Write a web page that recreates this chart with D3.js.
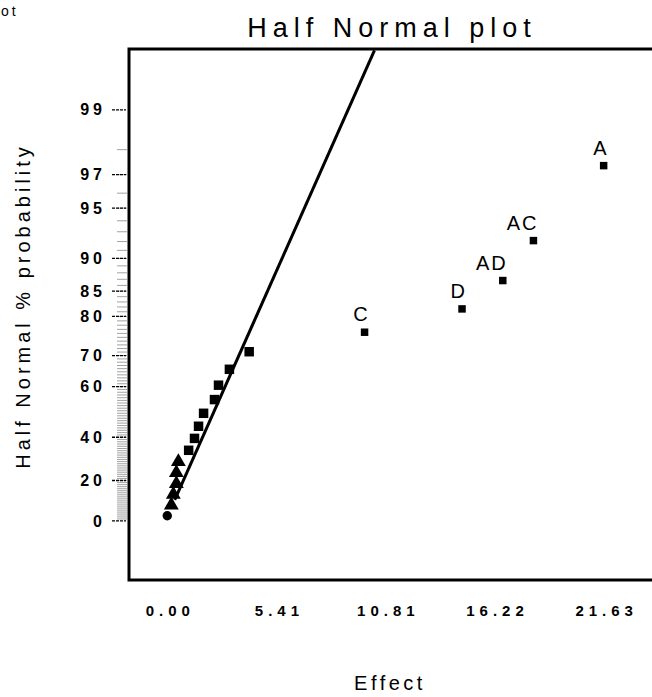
<!DOCTYPE html>
<html>
<head>
<meta charset="utf-8">
<script src="https://cdn.jsdelivr.net/npm/d3@7"></script>
<style>
  body { margin: 0; background: #fff; }
  svg { display: block; font-family: "Liberation Sans", Arial, sans-serif; }
</style>
</head>
<body>
<div id="chart"></div>
<script>
// effects, sorted by size, with their half normal % probability
var effectNames = ["", "", "", "", "", "", "", "", "", "", "", "", "", "", "C", "D", "AD", "AC", "A"];
var effects     = [0.00, 0.20, 0.30, 0.45, 0.45, 0.55, 1.06, 1.35, 1.55, 1.80, 2.34, 2.54, 3.08, 4.06, 9.78, 14.61, 16.63, 18.15, 21.63];
var probs       = [2.6, 7.9, 13.2, 18.4, 23.7, 28.9, 34.2, 39.5, 44.7, 50.0, 55.3, 60.5, 65.8, 71.1, 76.3, 81.6, 86.8, 92.1, 97.4];
var markers     = ["circle", "triangle", "triangle", "triangle", "triangle", "triangle",
                   "square", "square", "square", "square", "square", "square", "square", "square",
                   "square", "square", "square", "square", "square"];

// reference line (two ends)
var fitEffect = [0.37, 10.27];
var fitProb   = [10.5, 99.68];

var xTicks = [0.00, 5.41, 10.81, 16.22, 21.63];
var yTicks = [0, 20, 40, 60, 70, 80, 85, 90, 95, 97, 99];

var width = 652, height = 697;
var plot = {left: 129, top: 49, right: 667, bottom: 580};

// inverse normal cdf (Acklam)
function probit(p) {
    var a = [-3.969683028665376e+01, 2.209460984245205e+02, -2.759285104469687e+02, 1.383577518672690e+02, -3.066479806614716e+01, 2.506628277459239e+00];
    var b = [-5.447609879822406e+01, 1.615858368580409e+02, -1.556989798598866e+02, 6.680131188771972e+01, -1.328068155288572e+01];
    var c = [-7.784894002430293e-03, -3.223964580411365e-01, -2.400758277161838e+00, -2.549732539343734e+00, 4.374664141464968e+00, 2.938163982698783e+00];
    var d = [7.784695709041462e-03, 3.224671290700398e-01, 2.445134137142996e+00, 3.754408661907416e+00];
    var q, r;
    if (p < 0.02425) {
        q = Math.sqrt(-2 * Math.log(p));
        return (((((c[0]*q+c[1])*q+c[2])*q+c[3])*q+c[4])*q+c[5]) / ((((d[0]*q+d[1])*q+d[2])*q+d[3])*q+1);
    }
    if (p > 1 - 0.02425) {
        q = Math.sqrt(-2 * Math.log(1 - p));
        return -(((((c[0]*q+c[1])*q+c[2])*q+c[3])*q+c[4])*q+c[5]) / ((((d[0]*q+d[1])*q+d[2])*q+d[3])*q+1);
    }
    q = p - 0.5; r = q * q;
    return (((((a[0]*r+a[1])*r+a[2])*r+a[3])*r+a[4])*r+a[5])*q / (((((b[0]*r+b[1])*r+b[2])*r+b[3])*r+b[4])*r+1);
}
// half normal: percent -> z
function hz(pct) { return probit(0.5 + pct / 200); }

var x = d3.scaleLinear()
    .domain([-1.897, 24.77])
    .range([plot.left, plot.right]);

var y = d3.scaleLinear()
    .domain([-0.37, 2.957])
    .range([plot.bottom, plot.top]);

var svg = d3.select("#chart").append("svg")
    .attr("width", width)
    .attr("height", height);

svg.append("defs").append("clipPath")
    .attr("id", "plotClip")
  .append("rect")
    .attr("x", plot.left)
    .attr("y", plot.top)
    .attr("width", plot.right - plot.left)
    .attr("height", plot.bottom - plot.top);

// cut off word from the neighbouring figure
svg.append("text")
    .attr("x", 1).attr("y", 16)
    .style("font-size", "14px")
    .style("letter-spacing", "3px")
    .text("ot");

svg.append("text")
    .attr("x", 392).attr("y", 37)
    .attr("text-anchor", "middle")
    .style("font-size", "27px")
    .style("letter-spacing", "6px")
    .text("Half Normal plot");

// minor ticks on the probability scale
svg.append("g")
    .selectAll("line")
    .data(d3.range(1, 99))
    .enter().append("line")
    .attr("x1", 117).attr("x2", 127)
    .attr("y1", function(d) { return y(hz(d)); })
    .attr("y2", function(d) { return y(hz(d)); })
    .attr("stroke", "#8a8a8a")
    .attr("stroke-width", 0.8);

svg.append("g")
    .selectAll("line")
    .data(yTicks)
    .enter().append("line")
    .attr("x1", 112).attr("x2", 126)
    .attr("y1", function(d) { return y(hz(d)); })
    .attr("y2", function(d) { return y(hz(d)); })
    .attr("stroke", "#000")
    .attr("stroke-width", 1.3)
    .attr("stroke-dasharray", "3,1");

var yAxis = svg.append("g")
    .attr("transform", "translate(" + plot.left + ",0)")
    .call(d3.axisLeft(y)
        .tickValues(yTicks.map(hz))
        .tickFormat(function(d, i) { return yTicks[i]; })
        .tickSize(0)
        .tickPadding(23));
yAxis.select(".domain").remove();
yAxis.selectAll("text")
    .style("font-size", "16px")
    .style("font-weight", "bold")
    .style("letter-spacing", "4px")
    .style("font-family", "'Liberation Sans', Arial, sans-serif")
    .attr("fill", "#000");

var xAxis = svg.append("g")
    .attr("transform", "translate(0," + plot.bottom + ")")
    .call(d3.axisBottom(x)
        .tickValues(xTicks)
        .tickFormat(d3.format(".2f"))
        .tickSize(0)
        .tickPadding(25));
xAxis.select(".domain").remove();
xAxis.selectAll("text")
    .attr("dx", "2.5px")
    .style("font-size", "15px")
    .style("font-weight", "bold")
    .style("letter-spacing", "5px")
    .style("font-family", "'Liberation Sans', Arial, sans-serif")
    .attr("fill", "#000");

// frame
svg.append("rect")
    .attr("x", plot.left)
    .attr("y", plot.top)
    .attr("width", plot.right - plot.left)
    .attr("height", plot.bottom - plot.top)
    .attr("fill", "none")
    .attr("stroke", "#000")
    .attr("stroke-width", 3);

svg.append("path")
    .datum(d3.zip(fitEffect, fitProb))
    .attr("clip-path", "url(#plotClip)")
    .attr("fill", "none")
    .attr("stroke", "#000")
    .attr("stroke-width", 3)
    .attr("d", d3.line()
        .x(function(d) { return x(d[0]); })
        .y(function(d) { return y(hz(d[1])); }));

var symbolTypes = {circle: d3.symbolCircle, triangle: d3.symbolTriangle, square: d3.symbolSquare};

var points = svg.append("g")
    .selectAll("g")
    .data(d3.range(effects.length))
    .enter().append("g")
    .attr("transform", function(i) {
        return "translate(" + x(effects[i]) + "," + y(hz(probs[i])) + ")";
    });

points.append("path")
    .attr("d", function(i) {
        var size = markers[i] === "triangle" ? 95 : (effectNames[i] ? 56 : 90);
        if (markers[i] === "circle") size = 70;
        return d3.symbol().type(symbolTypes[markers[i]]).size(size)();
    })
    .attr("fill", "#000");

points.filter(function(i) { return effectNames[i] !== ""; })
    .append("text")
    .attr("x", 5).attr("y", -11)
    .attr("text-anchor", "end")
    .style("font-size", "20px")
    .style("letter-spacing", "2px")
    .text(function(i) { return effectNames[i]; });

// axis titles
svg.append("text")
    .attr("x", 390).attr("y", 690)
    .attr("text-anchor", "middle")
    .style("font-size", "20px")
    .style("letter-spacing", "3.5px")
    .text("Effect");

svg.append("text")
    .attr("transform", "translate(30,306) rotate(-90)")
    .attr("text-anchor", "middle")
    .style("font-size", "20px")
    .style("letter-spacing", "4px")
    .text("Half Normal % probability");
</script>
</body>
</html>
